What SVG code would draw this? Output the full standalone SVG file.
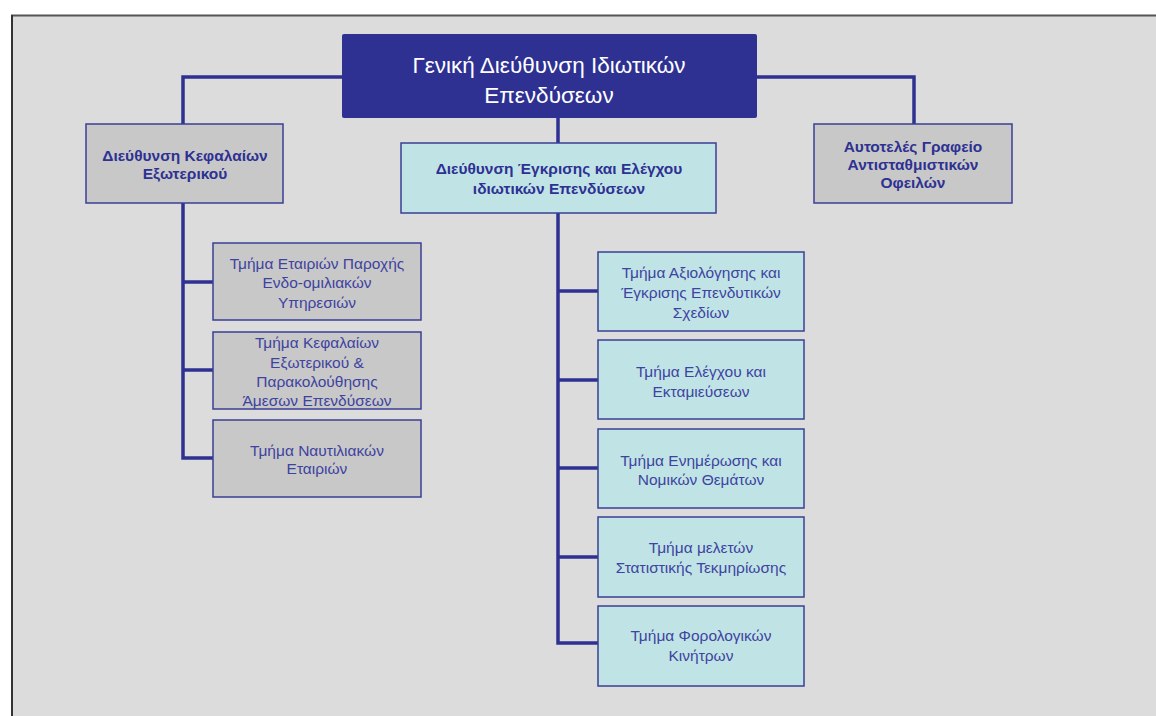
<svg xmlns="http://www.w3.org/2000/svg" width="1156" height="716" viewBox="0 0 1156 716">
<style>
.bg{fill:#dcdcdc}
.top{fill:#2e3192}
.gray{fill:#c8c8c8;stroke:#3a3f94;stroke-width:1.5}
.cyan{fill:#c0e4e6;stroke:#3a3f94;stroke-width:1.5}
.conn{fill:none;stroke:#2e3192;stroke-width:3.5}
text{font-family:"Liberation Sans",Arial,sans-serif;text-anchor:middle}
.tt{fill:#ffffff;font-size:22.5px}
.b{fill:#2e3192;font-size:15.5px;font-weight:bold}
.r{fill:#3e43a0;font-size:15.5px}
</style>
<rect x="0" y="0" width="1156" height="716" fill="#ffffff"/>
<rect class="bg" x="12" y="15" width="1144" height="701"/>
<line x1="11" y1="15.5" x2="1156" y2="15.5" stroke="#555" stroke-width="2"/>
<line x1="12" y1="15" x2="12" y2="716" stroke="#333" stroke-width="2"/>
<g id="connectors">
<polyline class="conn" points="342,77 183,77 183,124"/>
<polyline class="conn" points="757,77 914,77 914,124"/>
<line class="conn" x1="558" y1="118" x2="558" y2="143"/>
<polyline class="conn" points="183,203 183,458 213,458"/>
<line class="conn" x1="183" y1="282" x2="213" y2="282"/>
<line class="conn" x1="183" y1="370" x2="213" y2="370"/>
<polyline class="conn" points="558,213 558,643 598,643"/>
<line class="conn" x1="558" y1="291" x2="598" y2="291"/>
<line class="conn" x1="558" y1="380" x2="598" y2="380"/>
<line class="conn" x1="558" y1="468" x2="598" y2="468"/>
<line class="conn" x1="558" y1="557" x2="598" y2="557"/>
</g>
<g id="n-top">
<rect class="top" x="342" y="34" width="415" height="84" rx="2"/>
<text class="tt" x="549" y="73">Γενική Διεύθυνση Ιδιωτικών</text>
<text class="tt" x="549" y="103">Επενδύσεων</text>
</g>
<g id="n-left">
<rect class="gray" x="86" y="124" width="197" height="79"/>
<text class="b" x="185" y="160.5">Διεύθυνση Κεφαλαίων</text>
<text class="b" x="185" y="179">Εξωτερικού</text>
</g>
<g id="n-mid">
<rect class="cyan" x="401" y="143" width="315" height="70"/>
<text class="b" x="559" y="173.5">Διεύθυνση Έγκρισης και Ελέγχου</text>
<text class="b" x="559" y="193.5">ιδιωτικών Επενδύσεων</text>
</g>
<g id="n-right">
<rect class="gray" x="814" y="124" width="198" height="79"/>
<text class="b" x="913" y="151.5">Αυτοτελές Γραφείο</text>
<text class="b" x="913" y="169.5">Αντισταθμιστικών</text>
<text class="b" x="913" y="187.5">Οφειλών</text>
</g>
<g id="n-l1">
<rect class="gray" x="213" y="243" width="208" height="77"/>
<text class="r" x="317" y="268.5">Τμήμα Εταιριών Παροχής</text>
<text class="r" x="317" y="288">Ενδο-ομιλιακών</text>
<text class="r" x="317" y="307.5">Υπηρεσιών</text>
</g>
<g id="n-l2">
<rect class="gray" x="213" y="332" width="208" height="77"/>
<text class="r" x="317" y="348">Τμήμα Κεφαλαίων</text>
<text class="r" x="317" y="368">Εξωτερικού &amp;</text>
<text class="r" x="317" y="387">Παρακολούθησης</text>
<text class="r" x="317" y="406">Άμεσων Επενδύσεων</text>
</g>
<g id="n-l3">
<rect class="gray" x="213" y="420" width="208" height="77"/>
<text class="r" x="317" y="455.5">Τμήμα Ναυτιλιακών</text>
<text class="r" x="317" y="474">Εταιριών</text>
</g>
<g id="n-m1">
<rect class="cyan" x="598" y="252" width="206" height="79"/>
<text class="r" x="701" y="278">Τμήμα Αξιολόγησης και</text>
<text class="r" x="701" y="298">Έγκρισης Επενδυτικών</text>
<text class="r" x="701" y="317.5">Σχεδίων</text>
</g>
<g id="n-m2">
<rect class="cyan" x="598" y="340" width="206" height="79"/>
<text class="r" x="701" y="377">Τμήμα Ελέγχου και</text>
<text class="r" x="701" y="397">Εκταμιεύσεων</text>
</g>
<g id="n-m3">
<rect class="cyan" x="598" y="429" width="206" height="79"/>
<text class="r" x="701" y="465.5">Τμήμα Ενημέρωσης και</text>
<text class="r" x="701" y="484.5">Νομικών Θεμάτων</text>
</g>
<g id="n-m4">
<rect class="cyan" x="598" y="517" width="206" height="80"/>
<text class="r" x="701" y="552.5">Τμήμα μελετών</text>
<text class="r" x="701" y="573">Στατιστικής Τεκμηρίωσης</text>
</g>
<g id="n-m5">
<rect class="cyan" x="598" y="606" width="206" height="80"/>
<text class="r" x="701" y="641">Τμήμα Φορολογικών</text>
<text class="r" x="701" y="661">Κινήτρων</text>
</g>
</svg>
